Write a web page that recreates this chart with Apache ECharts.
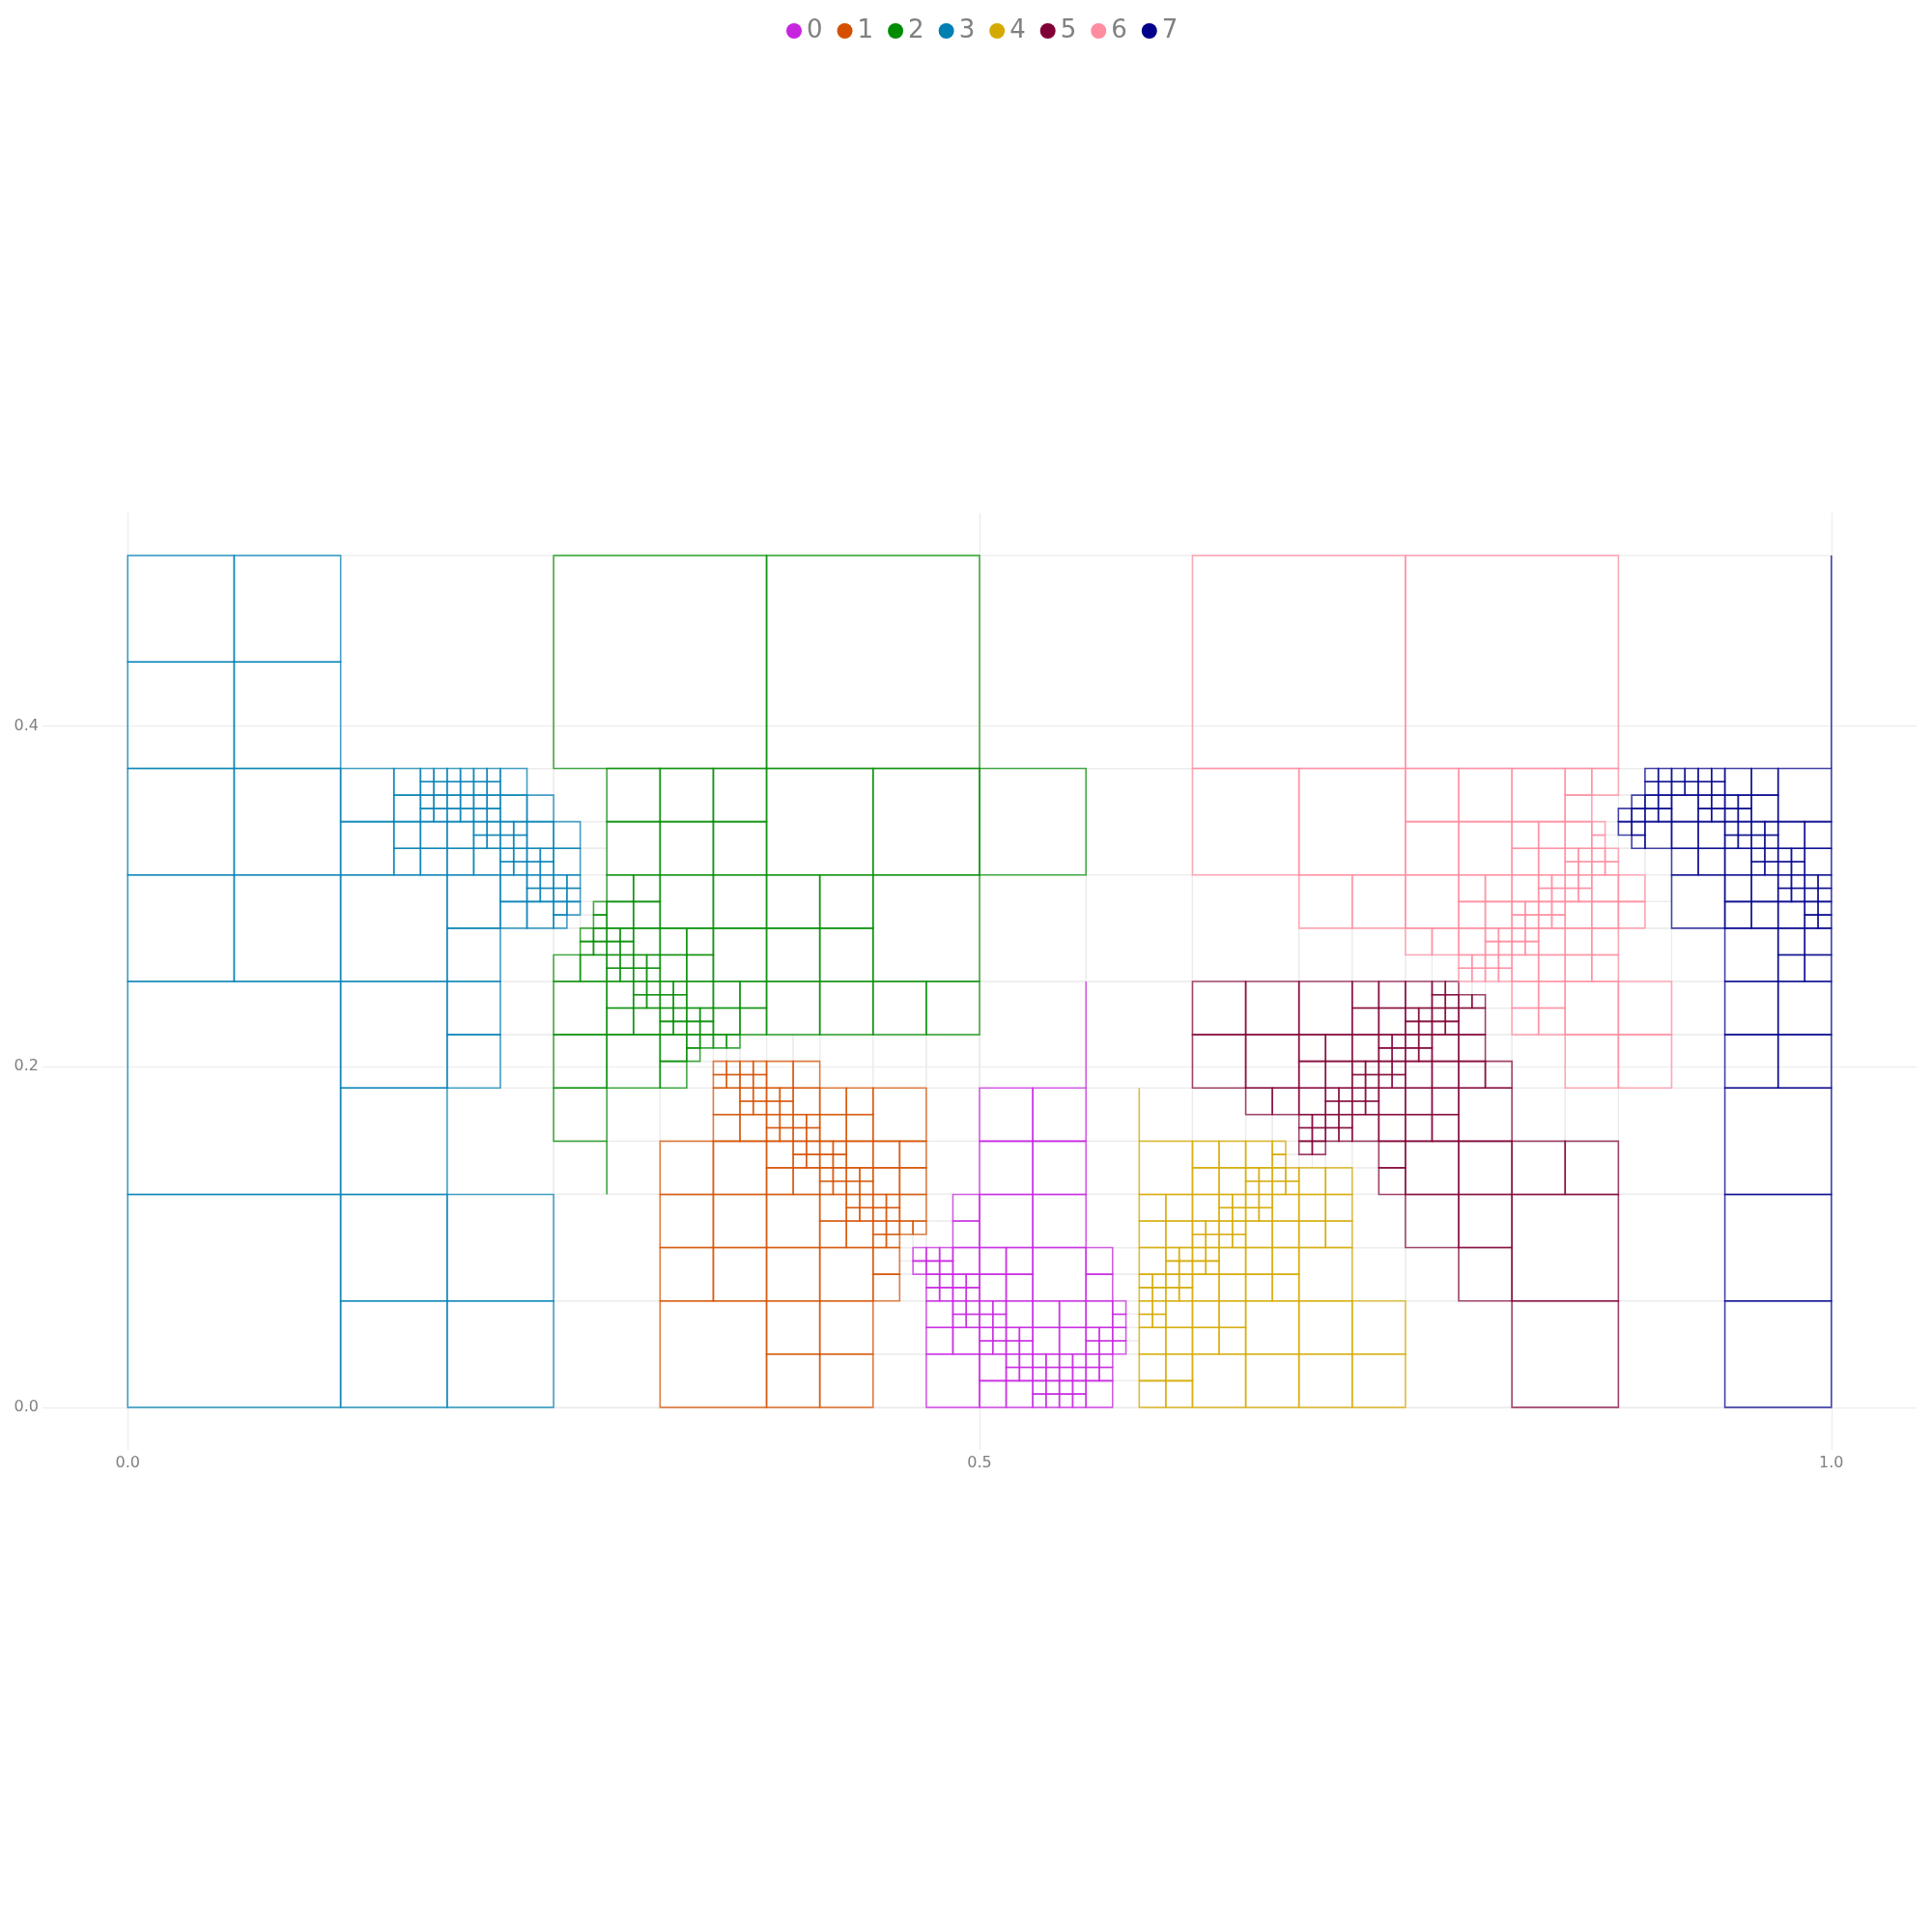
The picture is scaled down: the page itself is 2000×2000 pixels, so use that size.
<!DOCTYPE html>
<html>
<head>
<meta charset="utf-8">
<script src="https://cdn.jsdelivr.net/npm/echarts@6/dist/echarts.min.js"></script>
<style>
html,body{margin:0;padding:0;background:#ffffff;}
#chart{width:2000px;height:2000px;}
</style>
</head>
<body>
<div id="chart"></div>
<script>
// Quadtree leaf cells, in units of 1/128 of the x range: [x, y, size]
const GRID_DIV = 128;
const CLUSTER_NAMES = ['0','1','2','3','4','5','6','7'];
const CLUSTER_COLORS = ['#c724e0','#d45000','#008c00','#007fb3','#d4a900','#800036','#ff8c9f','#00008b'];
const EMPTY_COLOR = '#ececec';
const X_TICKS = [0, 0.5, 1];
const Y_TICKS = [0, 0.2, 0.4];

const cells0 = [
 [62,14,2],[62,12,2],
 [60,11,1],[61,11,1],[60,10,1],[61,10,1],[62,10,2],
 [60,9,1],[61,9,1],[60,8,1],[61,8,1],[62,9,1],[63,9,1],[62,8,1],[63,8,1],
 [59,11,1],[59,10,1],
 [60,6,2],[62,7,1],[63,7,1],[62,6,1],[63,6,1],[60,4,2],[62,4,2],
 [60,0,4],
 [64,20,4],[68,20,4],[64,16,4],[68,16,4],[64,12,4],[68,12,4],
 [64,10,2],[66,10,2],[64,8,2],[66,8,2],[68,8,4],
 [72,10,2],[72,8,2],
 [64,7,1],[65,7,1],[64,6,1],[65,6,1],[66,6,2],
 [64,5,1],[65,5,1],[64,4,1],[65,4,1],[66,5,1],[67,5,1],[66,4,1],[67,4,1],
 [68,6,2],[70,6,2],[68,4,2],[70,4,2],
 [64,2,2],[66,3,1],[67,3,1],[66,2,1],[67,2,1],[64,0,2],[66,0,2],
 [68,3,1],[69,3,1],[70,3,1],[71,3,1],[68,2,1],[69,2,1],[70,2,1],[71,2,1],
 [68,1,1],[69,1,1],[70,1,1],[71,1,1],[68,0,1],[69,0,1],[70,0,1],[71,0,1],
 [72,6,2],[74,7,1],[74,6,1],
 [72,5,1],[73,5,1],[72,4,1],[73,4,1],[74,5,1],[74,4,1],
 [72,3,1],[73,3,1],[72,2,1],[73,2,1],[72,0,2]
];

const cells1 = [
 [44,25,1],[45,25,1],[44,24,1],[45,24,1],[46,25,1],[47,25,1],[46,24,1],[47,24,1],
 [48,24,2],[50,24,2],
 [44,22,2],[46,23,1],[47,23,1],[46,22,1],[47,22,1],[44,20,2],[46,20,2],
 [40,16,4],[44,16,4],
 [48,23,1],[49,23,1],[48,22,1],[49,22,1],[50,22,2],
 [48,21,1],[49,21,1],[48,20,1],[49,20,1],[50,21,1],[51,21,1],[50,20,1],[51,20,1],
 [52,22,2],[54,22,2],[52,20,2],[54,20,2],
 [48,18,2],[50,19,1],[51,19,1],[50,18,1],[51,18,1],[48,16,2],[50,16,2],
 [52,19,1],[53,19,1],[52,18,1],[53,18,1],[54,18,2],
 [52,17,1],[53,17,1],[52,16,1],[53,16,1],[54,17,1],[55,17,1],[54,16,1],[55,16,1],
 [56,20,4],[56,18,2],[58,18,2],[56,16,2],[58,16,2],
 [40,12,4],[44,12,4],[40,8,4],[44,8,4],[40,0,8],
 [48,12,4],[48,8,4],[52,8,4],
 [52,14,2],[54,15,1],[55,15,1],[54,14,1],[55,14,1],[52,12,2],[54,12,2],
 [48,4,4],[52,4,4],[48,0,4],[52,0,4],
 [56,15,1],[57,15,1],[56,14,1],[57,14,1],[58,14,2],
 [56,13,1],[57,13,1],[56,12,1],[57,12,1],[58,13,1],[59,13,1],
 [56,10,2],[56,8,2]
];

const cells2 = [
 [32,48,16],[48,48,16],
 [36,44,4],[36,40,4],[40,44,4],[44,44,4],[40,40,4],[44,40,4],
 [35,37,1],[35,36,1],
 [36,38,2],[38,38,2],[36,36,2],[38,36,2],
 [32,32,2],[34,35,1],[35,35,1],[34,34,1],[35,34,1],[34,32,2],
 [36,35,1],[37,35,1],[36,34,1],[37,34,1],[38,34,2],
 [36,33,1],[37,33,1],[36,32,1],[37,32,1],[38,33,1],[39,33,1],[38,32,1],[39,32,1],
 [40,36,4],[44,36,4],[40,34,2],[42,34,2],[40,32,2],[42,32,2],[44,32,4],
 [48,40,8],[56,40,8],[48,36,4],[52,36,4],[48,32,4],[52,32,4],[56,32,8],
 [64,40,8],
 [32,28,4],[32,24,4],[32,20,4],
 [36,30,2],[38,31,1],[39,31,1],[38,30,1],[39,30,1],[36,28,2],[38,28,2],
 [40,31,1],[41,31,1],[40,30,1],[41,30,1],[42,30,2],
 [40,29,1],[41,29,1],[40,28,1],[41,28,1],[42,29,1],[43,29,1],[42,28,1],[43,28,1],
 [44,30,2],[46,30,2],[44,28,2],[46,28,2],
 [48,28,4],[52,28,4],[56,28,4],[60,28,4],
 [36,24,4],[40,26,2],[42,27,1],[43,27,1],[42,26,1],[40,24,2],
 [44,27,1],[45,27,1]
];

const cells3 = [
 [0,56,8],[8,56,8],[0,48,8],[8,48,8],[0,40,8],[8,40,8],[0,32,8],[8,32,8],
 [16,44,4],[20,46,2],[20,44,2],
 [22,47,1],[23,47,1],[24,47,1],[25,47,1],[26,47,1],[27,47,1],
 [22,46,1],[23,46,1],[24,46,1],[25,46,1],[26,46,1],[27,46,1],
 [22,45,1],[23,45,1],[24,45,1],[25,45,1],[26,45,1],[27,45,1],
 [22,44,1],[23,44,1],[24,44,1],[25,44,1],[26,44,1],[27,44,1],
 [28,46,2],[28,44,2],[30,44,2],
 [16,40,4],[20,42,2],[22,42,2],[20,40,2],[22,40,2],
 [24,42,2],[26,43,1],[27,43,1],[26,42,1],[27,42,1],[24,40,2],[26,40,2],
 [28,43,1],[29,43,1],[28,42,1],[29,42,1],[30,42,2],
 [28,41,1],[29,41,1],[28,40,1],[29,40,1],[30,41,1],[31,41,1],[30,40,1],[31,40,1],
 [16,32,8],[24,36,4],
 [28,38,2],[30,39,1],[31,39,1],[30,38,1],[31,38,1],[28,36,2],[30,36,2],
 [24,32,4],
 [32,42,2],[32,40,2],
 [32,39,1],[33,39,1],[32,38,1],[33,38,1],[32,37,1],[33,37,1],[32,36,1],
 [0,16,16],[0,0,16],[16,24,8],[24,28,4],[24,24,4],[16,16,8],[16,8,8],[24,8,8],[16,0,8],[24,0,8]
];

const cells4 = [
 [76,16,4],
 [76,14,2],[78,14,2],[76,12,2],[78,12,2],
 [76,10,2],[78,11,1],[79,11,1],[78,10,1],[79,10,1],
 [76,9,1],[77,9,1],[76,8,1],[77,8,1],[78,9,1],[79,9,1],[78,8,1],[79,8,1],
 [76,7,1],[77,7,1],[76,6,1],[77,6,1],[78,6,2],[76,4,2],[78,4,2],
 [76,2,2],[78,2,2],[76,0,2],[78,0,2],
 [80,18,2],[82,18,2],[80,16,2],[82,16,2],
 [84,18,2],[86,19,1],[86,18,1],
 [84,17,1],[85,17,1],[84,16,1],[85,16,1],[86,17,1],[87,17,1],[86,16,1],[87,16,1],
 [88,16,2],[90,16,2],
 [80,14,2],[82,15,1],[83,15,1],[82,14,1],[83,14,1],
 [80,13,1],[81,13,1],[80,12,1],[81,12,1],[82,13,1],[83,13,1],[82,12,1],[83,12,1],
 [84,15,1],[85,15,1],[84,14,1],[85,14,1],[86,14,2],[84,12,2],[86,12,2],
 [80,11,1],[81,11,1],[80,10,1],[81,10,1],[82,10,2],[80,8,2],[82,8,2],
 [84,10,2],[86,10,2],[84,8,2],[86,8,2],
 [88,14,2],[90,14,2],[88,12,2],[90,12,2],
 [88,8,4],
 [80,6,2],[82,6,2],[80,4,2],[82,4,2],
 [84,4,4],[80,0,4],[84,0,4],
 [88,4,4],[92,4,4],[88,0,4],[92,0,4]
];

const cells5 = [
 [80,28,4],[84,28,4],[80,24,4],[84,24,4],
 [88,28,4],
 [92,30,2],[94,30,2],[92,28,2],[94,28,2],
 [88,26,2],[90,26,2],[88,24,2],[90,24,2],
 [92,26,2],[94,27,1],[95,27,1],[94,26,1],[95,26,1],
 [92,25,1],[93,25,1],[92,24,1],[93,24,1],[94,25,1],[95,25,1],[94,24,1],[95,24,1],
 [84,22,2],[86,22,2],
 [88,22,2],[90,23,1],[91,23,1],[90,22,1],[91,22,1],
 [88,21,1],[89,21,1],[88,20,1],[89,20,1],[90,21,1],[91,21,1],[90,20,1],[91,20,1],
 [92,23,1],[93,23,1],[92,22,1],[93,22,1],[94,22,2],[92,20,2],[94,20,2],
 [88,19,1],[89,19,1],
 [94,18,2],[94,16,2],
 [96,30,2],[98,31,1],[99,31,1],[98,30,1],[99,30,1],
 [96,29,1],[97,29,1],[96,28,1],[97,28,1],[98,29,1],[99,29,1],[98,28,1],[99,28,1],
 [100,30,1],[101,30,1],[100,28,2],
 [96,27,1],[97,27,1],[96,26,1],[97,26,1],[98,26,2],[96,24,2],[98,24,2],
 [100,26,2],[100,24,2],[102,24,2],
 [96,22,2],[98,22,2],[96,20,2],[98,20,2],
 [100,20,4],[96,16,4],[100,16,4],
 [104,16,4],[108,16,4],
 [96,12,4],[100,12,4],[100,8,4],
 [104,8,8],[104,0,8]
];

const cells6 = [
 [80,48,16],[96,48,16],
 [80,40,8],[88,40,8],[88,36,4],[92,36,4],
 [96,44,4],[100,44,4],[96,40,4],[100,40,4],
 [104,44,4],[108,46,2],[110,46,2],[108,44,2],
 [104,42,2],[106,42,2],[104,40,2],[106,40,2],
 [108,42,2],[110,43,1],[110,42,1],
 [108,41,1],[109,41,1],[108,40,1],[109,40,1],[110,41,1],[111,41,1],[110,40,1],[111,40,1],
 [96,36,4],[100,38,2],[102,38,2],[100,36,2],[102,36,2],
 [96,34,2],[98,34,2],
 [100,34,2],[102,35,1],[103,35,1],[102,34,1],[103,34,1],
 [100,33,1],[101,33,1],[100,32,1],[101,32,1],[102,33,1],[103,33,1],[102,32,1],[103,32,1],
 [104,38,2],[106,39,1],[107,39,1],[106,38,1],[107,38,1],
 [104,37,1],[105,37,1],[104,36,1],[105,36,1],[106,37,1],[107,37,1],[106,36,1],[107,36,1],
 [108,39,1],[109,39,1],[108,38,1],[109,38,1],[110,38,2],[108,36,2],[110,36,2],
 [104,35,1],[105,35,1],[104,34,1],[105,34,1],[106,34,2],[104,32,2],[106,32,2],
 [108,34,2],[110,34,2],[108,32,2],[110,32,2],
 [112,38,2],[112,36,2],
 [104,30,2],[106,30,2],[104,28,2],[106,28,2],
 [108,28,4],[108,24,4],[112,28,4],[112,24,4]
];

const cells7 = [
 [114,47,1],[115,47,1],[114,46,1],[115,46,1],
 [113,45,1],[112,44,1],[113,44,1],
 [114,45,1],[115,45,1],[114,44,1],[115,44,1],
 [116,47,1],[117,47,1],[116,46,1],[117,46,1],[118,47,1],[119,47,1],[118,46,1],[119,46,1],
 [116,44,2],[118,45,1],[119,45,1],[118,44,1],[119,44,1],
 [112,43,1],[113,43,1],[113,42,1],[114,42,2],
 [116,42,2],[118,42,2],[116,40,2],[118,40,2],
 [120,46,2],[122,46,2],[120,45,1],[121,45,1],[120,44,1],[121,44,1],[122,44,2],
 [124,44,4],
 [120,43,1],[121,43,1],[120,42,1],[121,42,1],[122,43,1],[123,43,1],[122,42,1],[123,42,1],
 [120,40,2],[122,41,1],[123,41,1],[122,40,1],[123,40,1],
 [124,42,2],[126,42,2],[124,41,1],[125,41,1],[124,40,1],[125,40,1],[126,40,2],
 [116,36,4],
 [120,38,2],[122,38,2],[120,36,2],[122,36,2],
 [124,39,1],[125,39,1],[124,38,1],[125,38,1],[126,39,1],[127,39,1],[126,38,1],[127,38,1],
 [124,36,2],[126,37,1],[127,37,1],[126,36,1],[127,36,1],
 [120,32,4],[124,34,2],[126,34,2],[124,32,2],[126,32,2],
 [120,28,4],[124,28,4],[120,24,4],[124,24,4],
 [120,16,8],[120,8,8],[120,0,8]
];

// Lone edges drawn in the reference: [cluster, x0, y0, x1, y1]
const strayEdges = [
 [2,36,16,36,20],[0,72,24,72,32],[4,76,20,76,24],[7,128,48,128,64]
];

// Empty (unassigned) leaves, drawn faintly
const emptyCells = [
 [16,48,16],[30,46,2],[28,32,4],
 [28,28,4],[28,24,4],[24,16,8],
 [32,44,4],[34,42,2],[34,40,2],[34,38,2],[33,36,1],[34,37,1],[34,36,1],[32,34,2],
 [32,16,4],[36,20,4],[36,16,4],[40,20,4],[42,24,2],[43,26,1],[44,26,1],[45,26,1],[46,26,2],
 [48,26,2],[50,26,2],[52,24,4],[56,24,4],[60,24,4],[60,20,4],[60,16,4],[32,8,8],[32,0,8],
 [58,12,1],[59,12,1],[60,14,2],[60,12,2],[58,11,1],[58,10,1],[58,8,2],[56,4,4],[56,0,4],
 [64,24,8],[72,24,8],[72,20,4],[76,20,4],[72,16,4],[72,12,4],[74,10,2],[74,8,2],
 [75,7,1],[75,6,1],[75,5,1],[75,4,1],[74,2,2],[74,0,2],[80,20,4],[84,20,2],[86,20,2],
 [87,19,1],[87,18,1],[88,18,1],[89,18,1],[90,18,2],[92,18,2],[92,16,2],[92,12,4],[92,8,4],
 [100,31,1],[101,31,1],[102,30,2],[102,28,2],[102,26,2],[104,24,4],[104,20,4],[108,20,4],
 [96,8,4],[96,0,8],[112,16,8],[112,8,8],[112,0,8],[116,28,4],[116,24,4],
 [64,48,16],[72,40,8],[64,32,8],[72,32,8],[80,32,8],[88,32,4],[92,32,4],
 [96,32,2],[98,32,2],[112,48,16],[112,46,2],[112,45,1],[112,42,1],[112,40,2],[114,40,2],
 [114,38,2],[114,36,2],[112,32,4],[116,32,4],[110,44,2],[111,43,1],[111,42,1]
];

const clusterCells = [cells0, cells1, cells2, cells3, cells4, cells5, cells6, cells7];

function toRect(c) {
  return [c[0] / GRID_DIV, c[1] / GRID_DIV, (c[0] + c[2]) / GRID_DIV, (c[1] + c[2]) / GRID_DIV];
}

function makeSeries(name, color, data, z, lineWidth, opacity) {
  return {
    type: 'custom',
    name: name,
    coordinateSystem: 'cartesian2d',
    dimensions: ['x0', 'y0', 'x1', 'y1'],
    encode: { x: [0, 2], y: [1, 3] },
    data: data,
    z: z,
    silent: true,
    animation: false,
    itemStyle: { color: color },
    renderItem: function (params, api) {
      const a = api.coord([api.value(0), api.value(3)]);
      const b = api.coord([api.value(2), api.value(1)]);
      const style = { stroke: color, lineWidth: lineWidth, fill: 'none', opacity: opacity };
      if (Math.abs(a[0] - b[0]) < 0.01 || Math.abs(a[1] - b[1]) < 0.01) {
        return { type: 'line', shape: { x1: a[0], y1: a[1], x2: b[0], y2: b[1] }, style: style };
      }
      return { type: 'rect', shape: { x: a[0], y: a[1], width: b[0] - a[0], height: b[1] - a[1] }, style: style };
    }
  };
}

const series = [makeSeries('empty', EMPTY_COLOR, emptyCells.map(toRect), 1, 1.2, 1)];
clusterCells.forEach(function (cells, i) {
  const data = cells.map(toRect).concat(
    strayEdges.filter(function (e) { return e[0] === i; })
      .map(function (e) { return [e[1] / GRID_DIV, e[2] / GRID_DIV, e[3] / GRID_DIV, e[4] / GRID_DIV]; })
  );
  series.push(makeSeries(CLUSTER_NAMES[i], CLUSTER_COLORS[i], data, 2, 1.6, 0.72));
});

const chart = echarts.init(document.getElementById('chart'), null, { renderer: 'canvas', width: 2000, height: 2000 });
chart.setOption({
  backgroundColor: '#ffffff',
  animation: false,
  legend: {
    data: CLUSTER_NAMES.map(function (n, i) { return { name: n, icon: 'circle', itemStyle: { color: CLUSTER_COLORS[i] } }; }),
    left: 809,
    top: 14,
    padding: 5,
    itemWidth: 16,
    itemHeight: 16,
    itemGap: 15,
    selectedMode: false,
    textStyle: { color: '#808080', fontSize: 26, fontFamily: 'DejaVu Sans, sans-serif' }
  },
  grid: { left: 44, right: 16, top: 531, bottom: 499, containLabel: false },
  xAxis: {
    type: 'value',
    min: -0.05,
    max: 1.05,
    splitNumber: 2,
    minInterval: X_TICKS[1] - X_TICKS[0],
    maxInterval: X_TICKS[1] - X_TICKS[0],
    axisLine: { show: false },
    axisTick: { show: false },
    axisLabel: {
      color: '#808080', fontSize: 16, margin: 6, fontFamily: 'DejaVu Sans, sans-serif',
      showMinLabel: false, showMaxLabel: false,
      formatter: function (v) { return Math.abs(v) < 1e-9 ? '0.0' : v.toFixed(1); }
    },
    splitLine: { show: true, showMinLine: false, showMaxLine: false, lineStyle: { color: '#ebebeb', width: 1.2 } }
  },
  yAxis: {
    type: 'value',
    min: -0.025,
    max: 0.525,
    splitNumber: 3,
    minInterval: Y_TICKS[1] - Y_TICKS[0],
    maxInterval: Y_TICKS[1] - Y_TICKS[0],
    axisLine: { show: false },
    axisTick: { show: false },
    axisLabel: {
      color: '#808080', fontSize: 16, margin: 4, fontFamily: 'DejaVu Sans, sans-serif',
      showMinLabel: false, showMaxLabel: false,
      formatter: function (v) { return Math.abs(v) < 1e-9 ? '0.0' : v.toFixed(1); }
    },
    splitLine: { show: true, showMinLine: false, showMaxLine: false, lineStyle: { color: '#ebebeb', width: 1.2 } }
  },
  series: series
});
</script>
</body>
</html>
